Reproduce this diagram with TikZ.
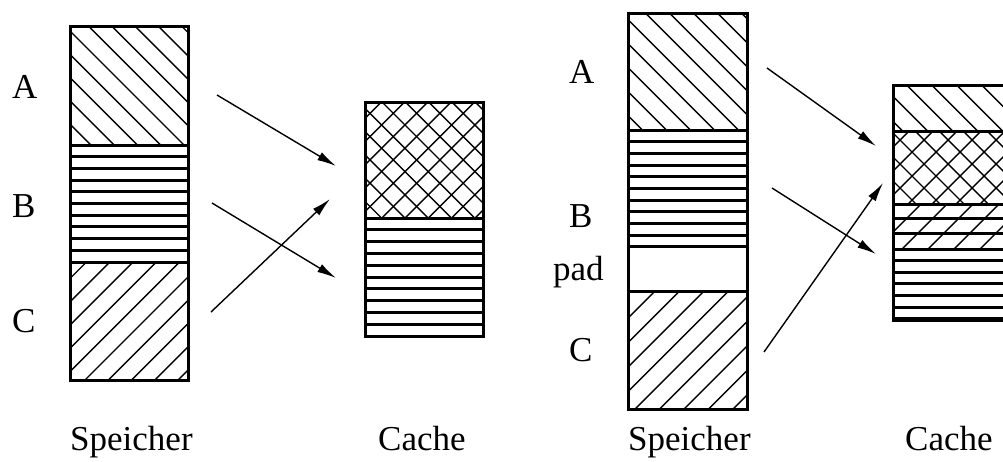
\documentclass[tikz,border=0pt]{standalone}
\usepackage{fontspec}
\setmainfont{Liberation Serif}
\usetikzlibrary{arrows.meta}

\tikzset{
  hatch/.style={line width=1.4pt},
  rule/.style={line width=3pt},
  frame/.style={line width=3pt},
  lbl/.style={anchor=base west, inner sep=0pt, font=\fontsize{35}{42}\selectfont},
  map/.style={line width=1.4pt, -{Latex[length=19pt,width=9pt]}},
}

% lines running down to the right (x - y = c), clipped to a rectangle
% #1 #2 #3 #4: corners, #5: one value of c, #6: spacing
\newcommand\hatchdn[6]{%
  \begin{scope}
    \clip (#1,#2) rectangle (#3,#4);
    \foreach \k in {-16,...,16}{
      \draw[hatch] ({#5+\k*#6-100},-100) -- ++(750,750);
    }
  \end{scope}}
% lines running up to the right (x + y = c)
\newcommand\hatchup[6]{%
  \begin{scope}
    \clip (#1,#2) rectangle (#3,#4);
    \foreach \k in {-16,...,16}{
      \draw[hatch] ({#5+\k*#6+100},-100) -- ++(-750,750);
    }
  \end{scope}}
% horizontal rules from x=#1 to x=#2, starting at y=#3, step #4, count #5
\newcommand\rules[5]{%
  \foreach \i in {1,...,#5}{
    \draw[rule] (#1,{#3+\i*#4}) -- (#2,{#3+\i*#4});
  }}

\begin{document}
\begin{tikzpicture}[x=1pt,y=-1pt]
  \clip (0,0) rectangle (1003,461);
  \fill[white] (0,0) rectangle (1003,461);

  % ---------- left: memory block ----------
  \hatchdn{70}{26}{188}{145}{62.3}{23.3}
  \rules{70}{188}{145}{11.7}{9}
  \draw[rule] (70,145) -- (188,145);
  \draw[rule] (70,262) -- (188,262);
  \hatchup{70}{262}{188}{380}{465}{23.3}
  \draw[frame] (70,26) rectangle (188,380);

  % ---------- left: cache ----------
  \hatchdn{365}{102}{483}{218}{280}{23.3}
  \hatchup{365}{102}{483}{218}{483.3}{23.3}
  \draw[rule] (365,218) -- (483,218);
  \rules{365}{483}{218}{11.8}{9}
  \draw[frame] (365,102) rectangle (483,336);

  % ---------- right: memory block with padding ----------
  \hatchdn{628}{13}{747}{130}{632.3}{24}
  \draw[rule] (628,130) -- (747,130);
  \rules{628}{747}{130}{11.67}{10}
  \draw[rule] (628,291) -- (747,291);
  \hatchup{628}{291}{747}{409}{1044}{24.5}
  \draw[frame] (628,13) rectangle (747,409);

  % ---------- right: cache ----------
  \hatchdn{893}{85}{1010}{131}{821.7}{25}
  \hatchdn{893}{131}{1010}{204}{760}{24}
  \hatchup{893}{131}{1010}{204}{1040}{24}
  \hatchup{893}{204}{1010}{249}{1125}{26}
  \draw[rule] (893,131) -- (1010,131);
  \draw[rule] (893,204) -- (1010,204);
  \draw[rule] (893,218.3) -- (1010,218.3);
  \draw[rule] (893,233.3) -- (1010,233.3);
  \draw[rule] (893,249) -- (1010,249);
  \rules{893}{1010}{249}{11.6}{6}
  \draw[line width=4.5pt] (893,319) -- (1010,319);
  \draw[frame] (893,85) rectangle (1010,320);

  % ---------- labels ----------
  \node[lbl] (lA) at (12,98) {A};
  \node[lbl] (lB) at (12,217) {B};
  \node[lbl] (lC) at (12,332) {C};
  \node[lbl] (rA) at (569,83) {A};
  \node[lbl] (rB) at (569,227) {B};
  \node[lbl] (rpad) at (553,280) {pad};
  \node[lbl] (rC) at (569,361) {C};
  \node[lbl] (lmem) at (70,450) {Speicher};
  \node[lbl] (lcache) at (378,450) {Cache};
  \node[lbl] (rmem) at (628,450) {Speicher};
  \node[lbl] (rcache) at (905,450) {Cache};

  % ---------- mapping arrows ----------
  \coordinate (la0) at (217,95);   \coordinate (la1) at (336,166);
  \coordinate (lb0) at (212,203);  \coordinate (lb1) at (336,278);
  \coordinate (lc0) at (211,312);  \coordinate (lc1) at (330,199);
  \coordinate (ra0) at (767,68);   \coordinate (ra1) at (876,146);
  \coordinate (rb0) at (772,188);  \coordinate (rb1) at (876,254);
  \coordinate (rc0) at (764,352);  \coordinate (rc1) at (883,183);
  \draw[map] (la0) -- (la1);
  \draw[map] (lb0) -- (lb1);
  \draw[map] (lc0) -- (lc1);
  \draw[map] (ra0) -- (ra1);
  \draw[map] (rb0) -- (rb1);
  \draw[map] (rc0) -- (rc1);
\end{tikzpicture}
\end{document}
